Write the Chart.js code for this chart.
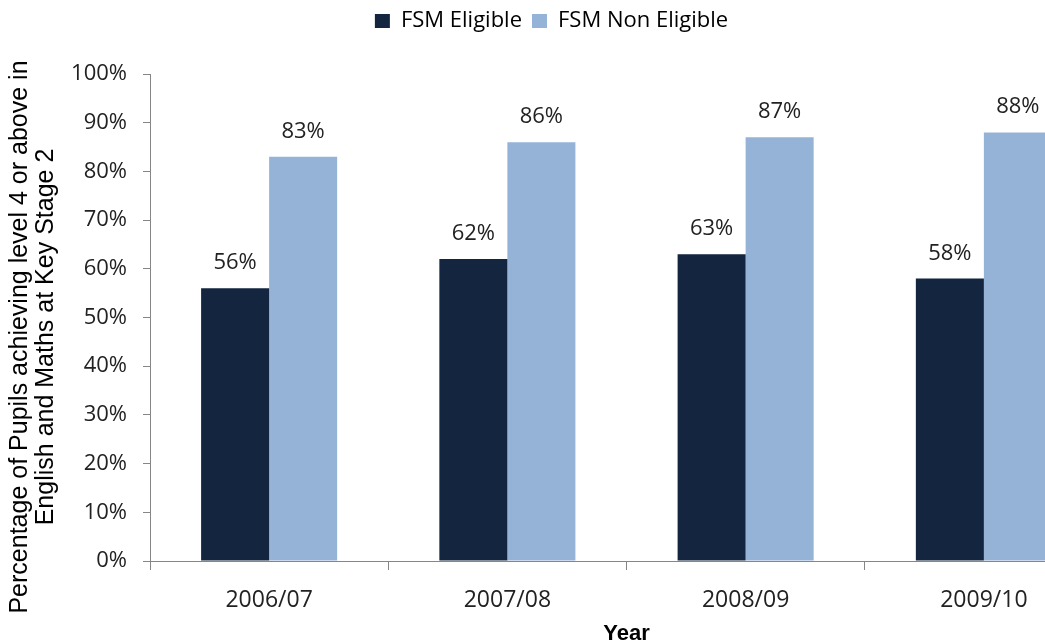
<!DOCTYPE html>
<html lang="en">
<head>
  <meta charset="UTF-8" />
  <title>FSM attainment at Key Stage 2</title>
  <script src="https://cdn.jsdelivr.net/npm/chart.js"></script>
  <style>
    html, body { margin: 0; padding: 0; background: #fff; overflow: hidden; }
    #wrap { position: absolute; left: 0; top: 0; }
  </style>
</head>
<body>
  <div id="wrap"><canvas id="chart" width="1110" height="660"></canvas></div>

  <script>
    const years = ['2006/07', '2007/08', '2008/09', '2009/10'];
    const fsmEligible = [56, 62, 63, 58];
    const fsmNonEligible = [83, 86, 87, 88];
    const yTitle = ['Percentage of Pupils achieving level 4 or above in', 'English and Maths at Key Stage 2'];
    const xTitle = 'Year';

    const axisGrey = '#868686';
    const sansFont = "'Open Sans', sans-serif";

    // value labels above each bar
    const barLabels = {
      id: 'barLabels',
      afterDatasetsDraw(chart) {
        const ctx = chart.ctx;
        ctx.save();
        ctx.font = "22px " + sansFont;
        ctx.fillStyle = '#222';
        ctx.textAlign = 'center';
        ctx.textBaseline = 'alphabetic';
        chart.data.datasets.forEach((ds, i) => {
          chart.getDatasetMeta(i).data.forEach((bar, j) => {
            ctx.fillText(ds.data[j] + '%', bar.x, bar.y - 19);
          });
        });
        ctx.restore();
      }
    };

    // rotated two-line y axis title
    const yAxisTitle = {
      id: 'yAxisTitle',
      afterDraw(chart) {
        const ctx = chart.ctx;
        ctx.save();
        ctx.translate(0, 337);
        ctx.rotate(-Math.PI / 2);
        ctx.font = "25px 'Liberation Sans', Arial, sans-serif";
        ctx.fillStyle = '#000';
        ctx.textAlign = 'center';
        ctx.textBaseline = 'middle';
        ctx.fillText(yTitle[0], 0, 20);
        ctx.fillText(yTitle[1], 0, 46);
        ctx.restore();
      }
    };

    // leave a gap between the legend and the plot like the original
    const legendGap = {
      id: 'legendGap',
      beforeInit(chart) {
        const fit = chart.legend.fit;
        chart.legend.fit = function () {
          fit.call(this);
          this.height += 32;
        };
      }
    };

    new Chart(document.getElementById('chart').getContext('2d'), {
      type: 'bar',
      data: {
        labels: years,
        datasets: [
          { label: 'FSM Eligible', data: fsmEligible, backgroundColor: '#13253F' },
          { label: 'FSM Non Eligible', data: fsmNonEligible, backgroundColor: '#95B3D7' }
        ]
      },
      options: {
        responsive: false,
        animation: false,
        layout: { padding: { top: 0, right: 7, left: 0, bottom: 0 } },
        datasets: { bar: { categoryPercentage: 0.571, barPercentage: 1 } },
        plugins: {
          legend: {
            position: 'top',
            labels: {
              boxWidth: 15,
              boxHeight: 14,
              padding: 10,
              color: '#000',
              font: { family: sansFont, size: 22 }
            }
          },
          tooltip: { enabled: false }
        },
        scales: {
          x: {
            grid: { drawOnChartArea: false, color: axisGrey, tickLength: 9 },
            border: { color: axisGrey },
            ticks: { color: '#222', padding: 17, font: { family: sansFont, size: 23 } },
            title: {
              display: true,
              text: xTitle,
              color: '#000',
              padding: { top: 0, bottom: 13 },
              font: { family: "'Liberation Sans', Arial, sans-serif", size: 22, weight: 'bold' }
            },
            afterFit(scale) { scale.height = 99; }
          },
          y: {
            min: 0,
            max: 100,
            grid: { drawOnChartArea: false, color: axisGrey, tickLength: 7 },
            border: { color: axisGrey },
            ticks: {
              stepSize: 10,
              color: '#222',
              padding: 16,
              font: { family: sansFont, size: 22 },
              callback: v => v + '%'
            },
            afterFit(scale) { scale.width = 150; }
          }
        }
      },
      plugins: [barLabels, yAxisTitle, legendGap]
    });
  </script>
</body>
</html>
